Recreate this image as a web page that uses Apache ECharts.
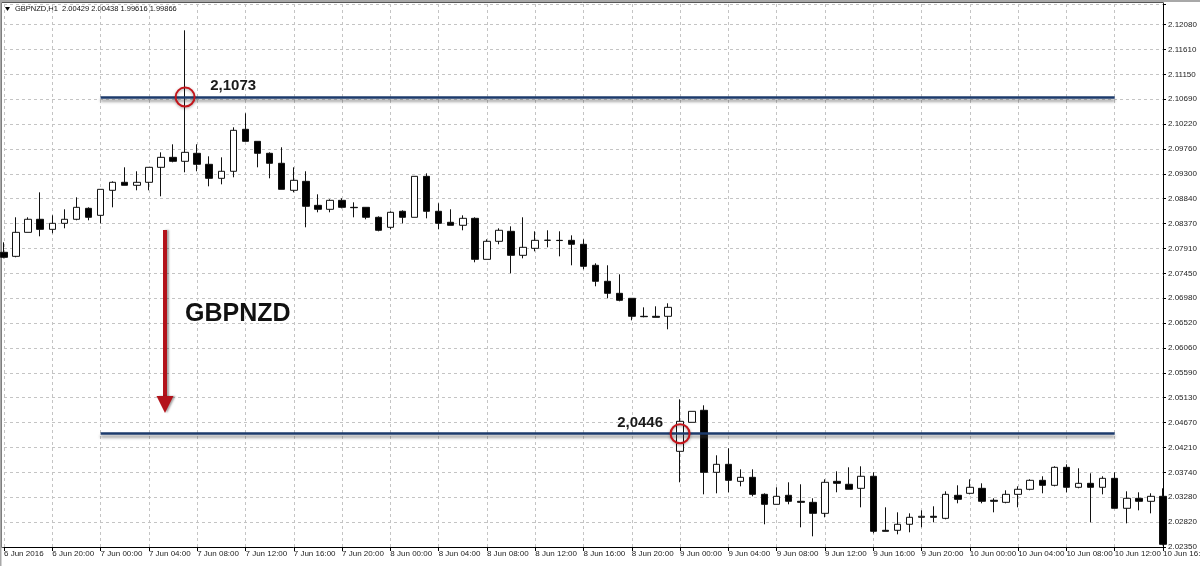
<!DOCTYPE html>
<html><head><meta charset="utf-8">
<script src="https://cdn.jsdelivr.net/npm/echarts@6/dist/echarts.min.js"></script>
<style>html,body{margin:0;padding:0;background:#fff}#c{width:1200px;height:566px}</style>
</head><body><div id="c"></div>
<script>
const openValues = [2.07839,2.07764,2.08211,2.08454,2.08267,2.08379,2.08454,2.08658,2.08528,2.08994,2.09143,2.09087,2.09143,2.09422,2.09608,2.09534,2.09683,2.09478,2.09217,2.09348,2.10130,2.09906,2.09683,2.09497,2.08994,2.09161,2.08714,2.08640,2.08807,2.08677,2.08677,2.08491,2.08305,2.08603,2.08491,2.09254,2.08603,2.08398,2.08342,2.08472,2.07708,2.08044,2.08230,2.07783,2.07913,2.08062,2.08062,2.08062,2.07988,2.07597,2.07299,2.07075,2.06982,2.06647,2.06647,2.06647,2.04132,2.04672,2.04896,2.03741,2.03890,2.03573,2.03648,2.03331,2.03145,2.03313,2.03201,2.03182,2.02977,2.03573,2.03518,2.03443,2.03667,2.02661,2.02661,2.02773,2.02903,2.02922,2.02884,2.03313,2.03350,2.03443,2.03220,2.03182,2.03331,2.03425,2.03592,2.03499,2.03834,2.03462,2.03536,2.03462,2.03629,2.03071,2.03257,2.03201,2.03294];
const closeValues = [2.07746,2.08211,2.08454,2.08267,2.08379,2.08454,2.08677,2.08491,2.09012,2.09143,2.09087,2.09143,2.09422,2.09608,2.09534,2.09701,2.09478,2.09217,2.09348,2.10111,2.09906,2.09683,2.09497,2.09012,2.09180,2.08696,2.08640,2.08807,2.08677,2.08670,2.08491,2.08249,2.08584,2.08491,2.09254,2.08603,2.08379,2.08342,2.08472,2.07708,2.08044,2.08249,2.07783,2.07932,2.08062,2.08065,2.08058,2.07988,2.07578,2.07299,2.07075,2.06945,2.06647,2.06640,2.06628,2.06814,2.04691,2.04877,2.03741,2.03890,2.03592,2.03648,2.03331,2.03145,2.03294,2.03201,2.03182,2.02977,2.03555,2.03536,2.03425,2.03667,2.02642,2.02642,2.02773,2.02903,2.02922,2.02903,2.03331,2.03238,2.03462,2.03201,2.03201,2.03331,2.03425,2.03592,2.03499,2.03834,2.03462,2.03536,2.03462,2.03629,2.03071,2.03257,2.03201,2.03294,2.02400];
const lowValues = [2.07727,2.07746,2.08211,2.08137,2.08193,2.08286,2.08435,2.08435,2.08379,2.08677,2.09087,2.08994,2.08994,2.08882,2.09515,2.09329,2.09348,2.09068,2.09105,2.09236,2.09906,2.09422,2.09217,2.09012,2.08956,2.08305,2.08584,2.08584,2.08658,2.08491,2.08454,2.08230,2.08267,2.08379,2.08491,2.08472,2.08267,2.08342,2.08249,2.07653,2.07708,2.07988,2.07448,2.07727,2.07857,2.07932,2.07764,2.07597,2.07522,2.07206,2.06982,2.06926,2.06572,2.06628,2.06628,2.06405,2.03555,2.04672,2.03331,2.03350,2.03369,2.03480,2.03294,2.02773,2.03145,2.03145,2.02717,2.02549,2.02903,2.03369,2.03425,2.03089,2.02605,2.02642,2.02586,2.02624,2.02717,2.02810,2.02866,2.03164,2.03331,2.03164,2.02996,2.03164,2.03089,2.03406,2.03350,2.03480,2.03369,2.03443,2.02810,2.03331,2.03071,2.02791,2.03033,2.02977,2.02381];
const highValues = [2.08025,2.08491,2.08491,2.08956,2.08528,2.08640,2.08863,2.08677,2.09012,2.09161,2.09422,2.09348,2.09422,2.09701,2.09850,2.11974,2.09850,2.09627,2.09608,2.10167,2.10428,2.09906,2.09701,2.09795,2.09422,2.09348,2.08919,2.08826,2.08845,2.08770,2.08677,2.08509,2.08603,2.08621,2.09254,2.09310,2.08752,2.08640,2.08528,2.08491,2.08081,2.08286,2.08323,2.08491,2.08230,2.08249,2.08230,2.08155,2.08081,2.07634,2.07597,2.07429,2.06982,2.06814,2.06833,2.06889,2.05101,2.04877,2.04989,2.04058,2.04188,2.03797,2.03797,2.03350,2.03462,2.03555,2.03518,2.03257,2.03611,2.03760,2.03834,2.03853,2.03741,2.03089,2.02996,2.02977,2.03033,2.03108,2.03387,2.03499,2.03611,2.03536,2.03257,2.03406,2.03480,2.03611,2.03667,2.03853,2.03890,2.03816,2.03723,2.03667,2.03741,2.03387,2.03369,2.03350,2.03443];
const xTickLabels = ["6 Jun 2016","6 Jun 20:00","7 Jun 00:00","7 Jun 04:00","7 Jun 08:00","7 Jun 12:00","7 Jun 16:00","7 Jun 20:00","8 Jun 00:00","8 Jun 04:00","8 Jun 08:00","8 Jun 12:00","8 Jun 16:00","8 Jun 20:00","9 Jun 00:00","9 Jun 04:00","9 Jun 08:00","9 Jun 12:00","9 Jun 16:00","9 Jun 20:00","10 Jun 00:00","10 Jun 04:00","10 Jun 08:00","10 Jun 12:00","10 Jun 16:00"];
const yTickLabels = ["2.02350","2.02820","2.03280","2.03740","2.04210","2.04670","2.05130","2.05590","2.06060","2.06520","2.06980","2.07450","2.07910","2.08370","2.08840","2.09300","2.09760","2.10220","2.10690","2.11150","2.11610","2.12080"];
const levelHigh = 2.1073, levelLow = 2.0446;
const titleText = "GBPNZD,H1  2.00429 2.00438 1.99616 1.99866";

// hourly categories from 6 Jun 16:00
const categories = openValues.map((_, i) => {
  const h = 16 + i; const d = 6 + Math.floor(h / 24); const hh = h % 24;
  return d + ' Jun ' + (hh < 10 ? '0' : '') + hh + ':00';
});
const ohlc = openValues.map((o, i) => [o, closeValues[i], lowValues[i], highValues[i]]);

const yMin = 2.0235, yMax = 2.12464, yStep = (2.1208 - 2.0235) / 21;
const FONT = "'Liberation Sans', Arial, sans-serif";
const chart = echarts.init(document.getElementById('c'), null, {renderer: 'canvas'});
chart.setOption({
  animation: false,
  backgroundColor: '#fff',
  grid: {left: 4, right: 37, top: 4, bottom: 19, containLabel: false, outerBoundsMode: 'none'},
  xAxis: {
    type: 'category', data: categories, boundaryGap: false,
    axisLine: {show: true, lineStyle: {color: '#000', width: 1}},
    axisTick: {show: true, interval: 3, length: 4, lineStyle: {color: '#000'}},
    axisLabel: {interval: 3, align: 'left', margin: 3, fontSize: 8, fontFamily: FONT, color: '#222',
      formatter: (v, i) => xTickLabels[i / 4] || ''},
    splitLine: {show: true, interval: 3, lineStyle: {color: '#c4c4c4', type: [3, 3], width: 1}}
  },
  yAxis: {
    type: 'value', position: 'right', min: yMin, max: yMax, interval: yStep, scale: true,
    axisLine: {show: true, lineStyle: {color: '#000', width: 1}},
    axisTick: {show: true, length: 3, lineStyle: {color: '#000'}},
    axisLabel: {margin: 5, fontSize: 8, fontFamily: FONT, color: '#222',
      formatter: v => { const k = Math.round((v - yMin) / yStep);
        return (Math.abs(v - (yMin + k * yStep)) < yStep * 0.2 && yTickLabels[k]) ? yTickLabels[k] : ''; }},
    splitLine: {show: true, lineStyle: {color: '#c4c4c4', type: [3, 3], width: 1}}
  },
  series: [{
    type: 'candlestick', data: ohlc, barWidth: 7, clip: false,
    itemStyle: {color: '#ffffff', color0: '#000000', borderColor: '#111', borderColor0: '#111', borderWidth: 1},
    markLine: {
      symbol: 'none', silent: true, animation: false, label: {show: false},
      lineStyle: {color: '#1d3b6c', width: 2.5, type: 'solid', shadowColor: 'rgba(70,70,70,0.55)', shadowBlur: 3, shadowOffsetY: 3},
      data: [
        [{coord: [categories[8], levelHigh]}, {coord: [categories[92], levelHigh]}],
        [{coord: [categories[8], levelLow]}, {coord: [categories[92], levelLow]}]
      ]
    },
    markPoint: {
      silent: true, animation: false,
      symbol: 'circle', symbolSize: 19,
      itemStyle: {color: 'rgba(0,0,0,0)', borderColor: '#c4161c', borderWidth: 2, shadowColor: 'rgba(0,0,0,0.35)', shadowBlur: 3, shadowOffsetY: 1},
      label: {show: false},
      data: [
        {coord: [categories[15], levelHigh]},
        {coord: [categories[56], levelLow]},
        {coord: [categories[17], levelHigh], symbolSize: 0,
          label: {show: true, formatter: '2,1073', position: 'right', distance: 1, offset: [0, -11], fontSize: 15, fontWeight: 'bold', fontFamily: FONT, color: '#1a1a1a'}},
        {coord: [categories[55], levelLow], symbolSize: 0,
          label: {show: true, formatter: '2,0446', position: 'left', distance: 5, offset: [0, -11], fontSize: 15, fontWeight: 'bold', fontFamily: FONT, color: '#1a1a1a'}}
      ]
    }
  }],
  graphic: [
    {type: 'rect', silent: true, z: -1, shape: {x: 1.5, y: 2.5, width: 1162, height: 545}, style: {fill: 'none', stroke: '#555', lineWidth: 1}},
    {type: 'rect', silent: true, shape: {x: 0, y: 0, width: 1200, height: 2}, style: {fill: '#a8a8a8'}},
    {type: 'rect', silent: true, shape: {x: 0, y: 0, width: 1.5, height: 566}, style: {fill: '#a8a8a8'}},
    {type: 'polygon', silent: true, shape: {points: [[5, 7], [10, 7], [7.5, 11]]}, style: {fill: '#000'}},
    {type: 'text', silent: true, x: 15, y: 9, style: {text: titleText, fontSize: 7.5, fontFamily: FONT, fill: '#111', verticalAlign: 'middle'}},
    {type: 'rect', silent: true, z: 10, shape: {x: 163, y: 230, width: 4, height: 168}, style: {fill: '#b3131b', shadowColor: 'rgba(0,0,0,0.35)', shadowBlur: 2, shadowOffsetX: 2}},
    {type: 'polygon', silent: true, z: 10, shape: {points: [[156.5, 396], [173.5, 396], [165, 413]]}, style: {fill: '#b3131b', shadowColor: 'rgba(0,0,0,0.35)', shadowBlur: 2, shadowOffsetX: 2}},
    {type: 'text', silent: true, z: 10, x: 185, y: 314, style: {text: 'GBPNZD', fontSize: 25, fontWeight: 'bold', fontFamily: FONT, fill: '#111', verticalAlign: 'middle'}}
  ]
});
</script></body></html>
